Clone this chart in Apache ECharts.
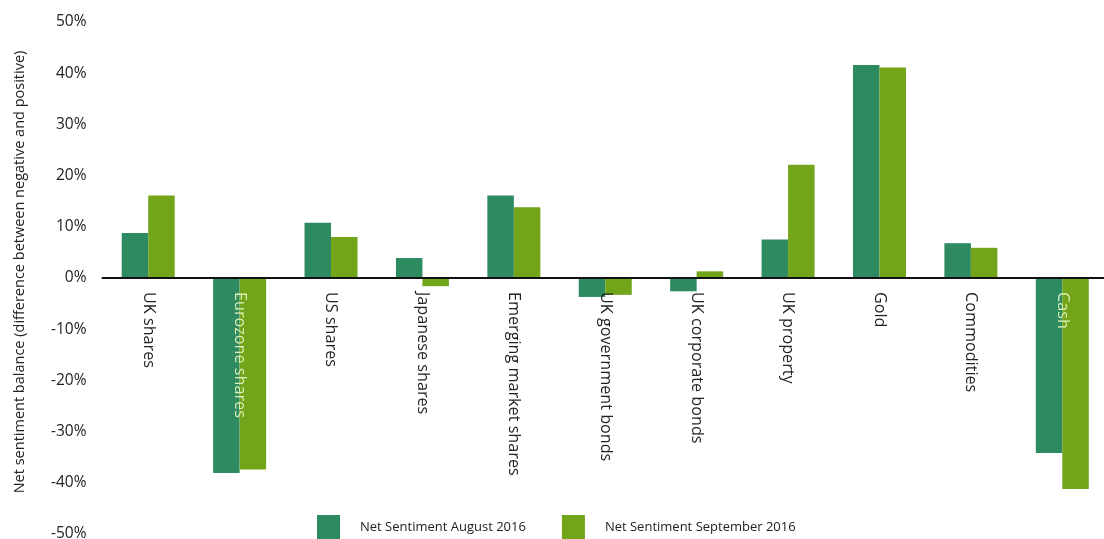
<!DOCTYPE html>
<html>
<head>
<meta charset="utf-8">
<script src="https://cdn.jsdelivr.net/npm/echarts@6/dist/echarts.min.js"></script>
<style>html,body{margin:0;padding:0;background:#fff;}#c{width:1104px;height:539px;}</style>
</head>
<body>
<div id="c"></div>
<script>
var categories = ['UK shares','Eurozone shares','US shares','Japanese shares','Emerging market shares','UK government bonds','UK corporate bonds','UK property','Gold','Commodities','Cash'];
var aug2016 = [8.8, -38.1, 10.8, 3.9, 16.1, -3.7, -2.6, 7.5, 41.6, 6.8, -34.2];
var sep2016 = [16.1, -37.4, 8.0, -1.6, 13.8, -3.3, 1.3, 22.1, 41.1, 5.9, -41.2];
var yTicks = [-50, -40, -30, -20, -10, 0, 10, 20, 30, 40, 50];
var seriesNames = ['Net Sentiment August 2016', 'Net Sentiment September 2016'];
var onBarLabels = ['Eurozone shares', 'Cash'];

var Y_MIN = -50, Y_MAX = 50;
var GRID_TOP = 22, GRID_BOTTOM = 5, H = 539;
var gridH = H - GRID_TOP - GRID_BOTTOM;
// distance from grid bottom up to the zero line
var zeroOffset = gridH * (0 - Y_MIN) / (Y_MAX - Y_MIN);

var chart = echarts.init(document.getElementById('c'));
var font = '"Open Sans", "Noto Sans", sans-serif';
chart.setOption({
  animation: false,
  textStyle: { fontFamily: font },
  grid: { left: 102.5, right: -4, top: GRID_TOP, bottom: GRID_BOTTOM, containLabel: false, outerBoundsMode: 'none' },
  legend: {
    left: 317, top: 515, padding: 0,
    itemWidth: 23, itemHeight: 24, itemGap: 36,
    icon: 'rect',
    textStyle: { fontSize: 13, color: '#222', fontFamily: font, padding: [0, 0, 0, 15] },
    data: seriesNames
  },
  xAxis: {
    type: 'category',
    data: categories,
    z: 10,
    position: 'bottom',
    offset: -zeroOffset,
    axisLine: { lineStyle: { color: '#111', width: 2 }, onZero: false },
    axisTick: { show: false },
    axisLabel: {
      rotate: -90,
      interval: 0,
      margin: 14,
      fontSize: 16.2,
      fontFamily: font,
      verticalAlign: 'middle',
      align: 'left',
      color: function (v) { return onBarLabels.indexOf(v) >= 0 ? '#dcefb4' : '#222'; }
    }
  },
  yAxis: {
    type: 'value',
    min: Y_MIN, max: Y_MAX, interval: 10,
    name: 'Net sentiment balance (difference between negative and positive)',
    nameLocation: 'middle',
    nameGap: 75,
    nameTextStyle: { fontSize: 14.5, color: '#222', fontFamily: font, padding: [0, 0, 0, 12] },
    axisLine: { show: false },
    axisTick: { show: false },
    splitLine: { show: false },
    axisLabel: { fontSize: 15.5, color: '#222', fontFamily: font, margin: 16, formatter: function (v) { return yTicks.indexOf(v) >= 0 ? v + '%' : ''; } }
  },
  series: [
    { name: seriesNames[0], type: 'bar', data: aug2016, barWidth: 26.5, barGap: '0%', itemStyle: { color: '#2e8a60' } },
    { name: seriesNames[1], type: 'bar', data: sep2016, barWidth: 26.5, barGap: '0%', itemStyle: { color: '#72a51a' } }
  ]
});
</script>
</body>
</html>
